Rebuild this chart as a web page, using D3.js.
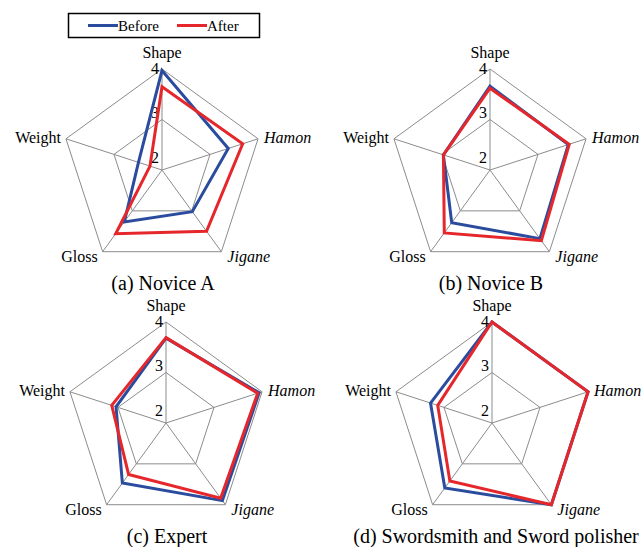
<!DOCTYPE html>
<html>
<head>
<meta charset="utf-8">
<script src="https://cdn.jsdelivr.net/npm/d3@7"></script>
<style>
  body { margin: 0; background: #fff; }
</style>
</head>
<body>
<div id="chart"></div>
<script>
//Datos
const axes = ['Shape', 'Hamon', 'Jigane', 'Gloss', 'Weight'];
const italicAxes = ['Hamon', 'Jigane'];
const panels = ['(a) Novice A', '(b) Novice B', '(c) Expert', '(d) Swordsmith and Sword polisher'];
const seriesNames = ['Before', 'After'];
const before = [
    [3.97, 3.38, 3.02, 3.27, 2.49],
    [3.66, 3.63, 3.68, 3.29, 2.97],
    [3.68, 3.94, 3.90, 3.47, 3.04],
    [4.00, 4.00, 4.00, 3.59, 3.28]
];
const after = [
    [3.65, 3.68, 3.50, 3.56, 2.25],
    [3.62, 3.65, 3.73, 3.54, 2.97],
    [3.69, 3.91, 3.84, 3.26, 3.13],
    [4.00, 4.00, 4.00, 3.42, 3.13]
];
const ticks = [2, 3, 4];

//Colores y fuente
const COLOR_BEFORE = '#2B4C9E',
    COLOR_AFTER = '#E5272C',
    COLOR_GRID = '#8c8c8c',
    FONT = "'Liberation Serif', 'DejaVu Serif', 'Tinos', 'Noto Serif', 'Nimbus Roman', 'FreeSerif', 'Times New Roman', Times, serif";

let width = 644, height = 547, R = 101;
let centers = [[162, 170], [490, 170], [166, 423], [492, 423]];

let svg = d3.select('#chart')
    .append('svg')
    .attr('width', width)
    .attr('height', height)
    .attr('font-family', FONT);

let r = d3.scaleLinear().domain([2, 4]).range([0, R]);
//posición de las etiquetas del eje radial
let tickPos = d3.scaleLinear().domain([2, 4]).range([13, 102]);

let angle = function(i) { return i * 2 * Math.PI / axes.length; };
let point = function(v, i) {
    return [r(v) * Math.sin(angle(i)), -r(v) * Math.cos(angle(i))];
};

let line = d3.line().curve(d3.curveLinearClosed);

panels.forEach(function(title, p) {
    let g = svg.append('g')
        .attr('transform', 'translate(' + centers[p][0] + ',' + centers[p][1] + ')');

    //Rejilla
    ticks.slice(1).forEach(function(t) {
        g.append('path')
            .attr('d', line(axes.map(function(a, i) { return point(t, i); })))
            .attr('fill', 'none')
            .attr('stroke', COLOR_GRID)
            .attr('stroke-width', 1);
    });
    axes.forEach(function(a, i) {
        let pt = point(ticks[ticks.length - 1], i);
        g.append('line')
            .attr('x1', 0).attr('y1', 0)
            .attr('x2', pt[0]).attr('y2', pt[1])
            .attr('stroke', COLOR_GRID)
            .attr('stroke-width', 1);
    });

    //Etiquetas de valores
    ticks.forEach(function(t) {
        g.append('text')
            .attr('x', -3)
            .attr('y', -tickPos(t))
            .attr('dy', '0.35em')
            .attr('text-anchor', 'end')
            .attr('font-size', '16px')
            .text(t);
    });

    //Etiquetas de ejes
    axes.forEach(function(a, i) {
        let pt = point(4, i);
        let s = Math.sin(angle(i)), c = Math.cos(angle(i));
        let anchor = Math.abs(s) < 0.1 ? 'middle' : (s > 0 ? 'start' : 'end');
        let dx = Math.abs(s) < 0.1 ? 0 : (s > 0 ? 6 : -5);
        let dy = i == 0 ? -11 : (c > 0 ? 4 : 10);
        g.append('text')
            .attr('x', pt[0] + dx)
            .attr('y', pt[1] + dy)
            .attr('text-anchor', anchor)
            .attr('font-size', '16px')
            .attr('font-style', italicAxes.indexOf(a) >= 0 ? 'italic' : 'normal')
            .text(a);
    });

    //Series
    [before[p], after[p]].forEach(function(vals, k) {
        g.append('path')
            .attr('d', line(vals.map(function(v, i) { return point(v, i); })))
            .attr('fill', 'none')
            .attr('stroke', k == 0 ? COLOR_BEFORE : COLOR_AFTER)
            .attr('stroke-width', 3)
            .attr('stroke-linejoin', 'miter');
    });

    //Título
    g.append('text')
        .attr('x', p == 3 ? 4 : 1)
        .attr('y', 120)
        .attr('text-anchor', 'middle')
        .attr('font-size', '20px')
        .text(title);
});

//Leyenda
let legend = svg.append('g');
legend.append('rect')
    .attr('x', 68.5).attr('y', 13.5)
    .attr('width', 191).attr('height', 24)
    .attr('fill', '#fff')
    .attr('stroke', '#000')
    .attr('stroke-width', 1.5);

let legendX = [88, 177];
seriesNames.forEach(function(n, k) {
    legend.append('line')
        .attr('x1', legendX[k]).attr('x2', legendX[k] + 30)
        .attr('y1', 25.5).attr('y2', 25.5)
        .attr('stroke', k == 0 ? COLOR_BEFORE : COLOR_AFTER)
        .attr('stroke-width', 3);
    legend.append('text')
        .attr('x', legendX[k] + 30)
        .attr('y', 31)
        .attr('font-size', '15px')
        .text(n);
});
</script>
</body>
</html>
